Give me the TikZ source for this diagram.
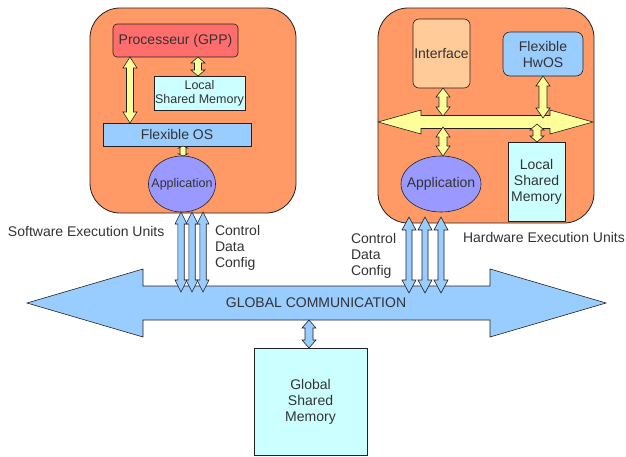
\documentclass[tikz,border=0pt]{standalone}
\usepackage{fontspec}
\setmainfont{Liberation Sans}
\usetikzlibrary{calc,shapes.geometric}
\definecolor{orangebg}{HTML}{FF9966}
\definecolor{procred}{HTML}{FF6D6D}
\definecolor{peach}{HTML}{FFCC99}
\definecolor{lblue}{HTML}{99CCFF}
\definecolor{lcyan}{HTML}{CCFFFF}
\definecolor{lpurple}{HTML}{9999FF}
\definecolor{lyellow}{HTML}{FFFF99}
\definecolor{txt}{HTML}{333333}
\definecolor{edge}{HTML}{222222}
\tikzset{
  unitbox/.style={draw=edge, line width=0.8pt, fill=orangebg, rounded corners=30pt, inner sep=0pt, outer sep=0pt},
  blk/.style={draw=edge, line width=0.6pt, text=txt, font=\fontsize{14}{16}\selectfont, align=center, inner sep=0pt, outer sep=0pt},
  smallfont/.style={font=\fontsize{12.5}{14}\selectfont},
  lbl/.style={text=txt, font=\fontsize{14}{16}\selectfont, inner sep=0pt, outer sep=0pt},
  yarrow/.style={fill=lyellow, draw=edge, line width=0.6pt},
  barrow/.style={fill=lblue, draw=edge, line width=0.6pt},
}
% vertical double block arrow: style, top point, bottom point, half shaft, half head, head length
\newcommand\vdarrow[6]{%
  \filldraw[#1] let \p1=(#2), \p2=(#3) in
    (\x1,\y1) -- (\x1+#5,\y1-#6) -- (\x1+#4,\y1-#6) -- (\x1+#4,\y2+#6) -- (\x1+#5,\y2+#6)
    -- (\x1,\y2) -- (\x1-#5,\y2+#6) -- (\x1-#4,\y2+#6) -- (\x1-#4,\y1-#6) -- (\x1-#5,\y1-#6) -- cycle;}
% horizontal double block arrow: style, left point, right point, half shaft, half head, head length
\newcommand\hdarrow[6]{%
  \filldraw[#1] let \p1=(#2), \p2=(#3) in
    (\x1,\y1) -- (\x1+#6,\y1+#5) -- (\x1+#6,\y1+#4) -- (\x2-#6,\y1+#4) -- (\x2-#6,\y1+#5)
    -- (\x2,\y1) -- (\x2-#6,\y1-#5) -- (\x2-#6,\y1-#4) -- (\x1+#6,\y1-#4) -- (\x1+#6,\y1-#5) -- cycle;}
\begin{document}
\begin{tikzpicture}[x=1pt,y=-1pt]
\useasboundingbox (0,0) rectangle (626,456);

% execution units
\node[unitbox, minimum width=206pt, minimum height=205pt] (swunit) at (193,110.5) {};
\node[unitbox, minimum width=216pt, minimum height=215pt] (hwunit) at (486,115.5) {};

% software unit content
\node[blk, fill=procred, rounded corners=4pt, minimum width=125pt, minimum height=33pt] (proc) at (175.5,40.5) {Processeur (GPP)};
\node[blk, smallfont, fill=lcyan, minimum width=91pt, minimum height=34pt] (lsm1) at (199.5,93) {Local\\Shared Memory};
\node[blk, fill=lblue, minimum width=148pt, minimum height=23pt] (fos) at (177,134.5) {Flexible OS};
\node[blk, smallfont, ellipse, fill=lpurple, minimum width=67pt, minimum height=56pt] (app1) at (182,184) {\makebox[0pt]{Application}};

\vdarrow{yarrow}{130,0 |- proc.south}{130,0 |- fos.north}{3.5}{7}{11}
\vdarrow{yarrow}{198,0 |- proc.south}{198,0 |- lsm1.north}{3.5}{7}{6}
\vdarrow{yarrow}{183,0 |- fos.south}{183,0 |- app1.north}{3}{4.5}{2}

% hardware unit content
\node[blk, fill=peach, rounded corners=6pt, minimum width=57pt, minimum height=69pt] (iface) at (441.5,53.5) {Interface};
\node[blk, fill=lblue, rounded corners=7pt, minimum width=80pt, minimum height=44pt] (hwos) at (543,54) {Flexible\\HwOS};
\node[blk, fill=lcyan, minimum width=57pt, minimum height=79pt] (lsm2) at (536.5,181.5) {Local\\Shared\\Memory};
\node[blk, ellipse, fill=lpurple, minimum width=80pt, minimum height=56pt] (app2) at (441,184) {\makebox[0pt]{Application}};

\coordinate (busL) at (378,122);
\coordinate (busR) at (593,122);
\hdarrow{yarrow}{busL}{busR}{6.5}{12}{43}
\vdarrow{yarrow}{443,0 |- iface.south}{443,116}{4}{7}{9}
\vdarrow{yarrow}{543,0 |- hwos.south}{543,118}{4}{7}{10}
\vdarrow{yarrow}{537,124}{537,0 |- lsm2.north}{4}{7}{6}
\vdarrow{yarrow}{443,127}{443,0 |- app2.north}{4}{7}{10}

% global communication
\coordinate (gcL) at (27,303);
\coordinate (gcR) at (606,303);
\hdarrow{barrow}{gcL}{gcR}{17}{34}{116}
\node[lbl] (gclbl) at (316,303) {GLOBAL COMMUNICATION};

\vdarrow{barrow}{181,0 |- app1.south}{181,292}{3.2}{6}{12}
\vdarrow{barrow}{192,0 |- app1.south}{192,292}{3.2}{6}{12}
\vdarrow{barrow}{203,0 |- app1.south}{203,292}{3.2}{6}{12}

\coordinate (hwc1) at (409,217);
\coordinate (hwc2) at (425,217);
\coordinate (hwc3) at (441,217);
\vdarrow{barrow}{hwc1}{409,293}{3}{7}{13}
\vdarrow{barrow}{hwc2}{425,293}{3}{7}{13}
\vdarrow{barrow}{hwc3}{441,293}{3}{7}{13}

% global memory
\node[blk, fill=lcyan, minimum width=113pt, minimum height=107pt] (gmem) at (310.5,401.5) {Global\\Shared\\Memory};
\vdarrow{barrow}{309,320}{309,0 |- gmem.north}{4}{7}{8}

% labels
\node[lbl, anchor=west] (swlbl) at (8,231) {Software Execution Units};
\node[lbl, anchor=north west, align=left] (cdc1) at (215,225.5) {Control\\Data\\Config};
\node[lbl, anchor=north west, align=left] (cdc2) at (351,233) {Control\\Data\\Config};
\node[lbl, anchor=west] (hwlbl) at (463,237) {Hardware Execution Units};
\end{tikzpicture}
\end{document}
